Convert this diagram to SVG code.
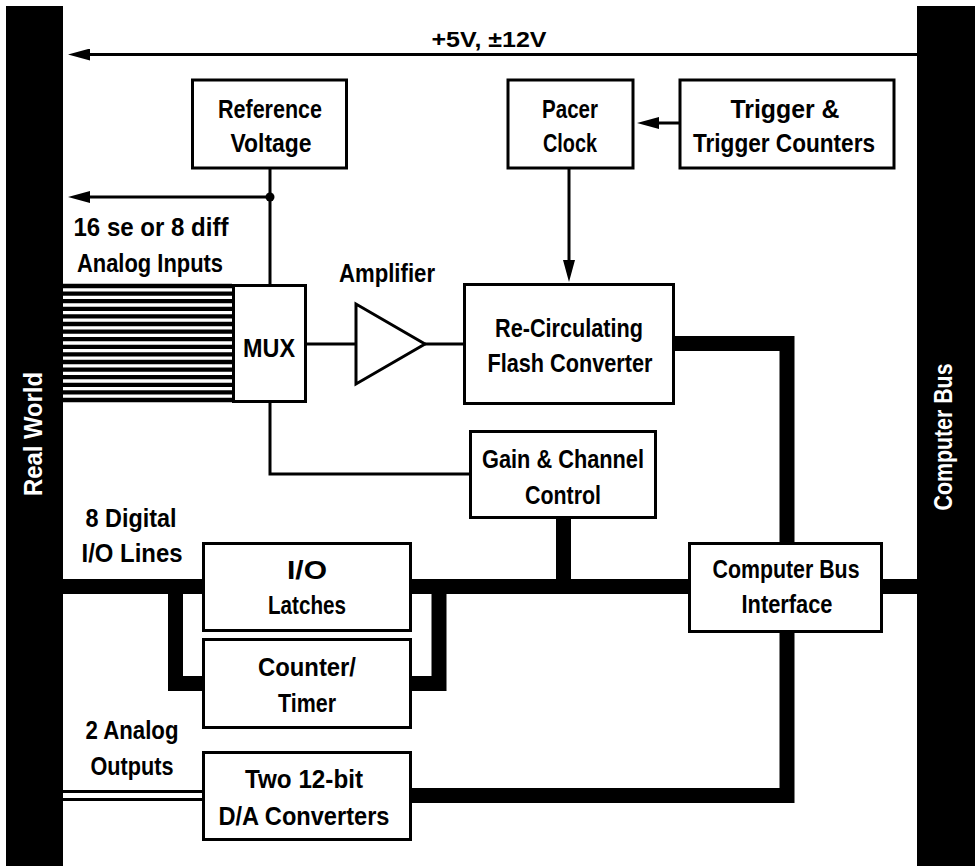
<svg xmlns="http://www.w3.org/2000/svg" width="975" height="866" viewBox="0 0 975 866">
<defs>
<style>
.box{fill:#fff;stroke:#000;stroke-width:3}
.t{font-family:"Liberation Sans Narrow","Liberation Sans",Arial,sans-serif;font-weight:bold;font-size:26px;fill:#000;text-anchor:middle}
.w{fill:#fff}
.thin{fill:none;stroke:#000;stroke-width:3}
.bus{fill:none;stroke:#000;stroke-width:15;stroke-linejoin:miter}
.in{stroke:#000;stroke-width:4.3}
</style>
<marker id="arr" viewBox="0 0 22 12" refX="14" refY="6" markerWidth="22" markerHeight="12" markerUnits="userSpaceOnUse" orient="auto">
<path d="M0,0 L22,6 L0,12 z" fill="#000"/>
</marker>
</defs>
<rect width="975" height="866" fill="#fff"/>

<g id="real-world">
<rect x="6" y="6" width="57" height="860" fill="#000"/>
<text class="t w" transform="translate(42,434) rotate(-90)" textLength="124" lengthAdjust="spacingAndGlyphs">Real World</text>
</g>
<g id="computer-bus">
<rect x="917" y="6" width="58" height="860" fill="#000"/>
<text class="t w" transform="translate(952,437) rotate(-90)" textLength="147" lengthAdjust="spacingAndGlyphs">Computer Bus</text>
</g>

<g id="connectors">
<line class="thin" x1="917" y1="54.5" x2="76" y2="54.5" marker-end="url(#arr)"/>
<text class="t" x="489" y="47" style="font-family:'Liberation Sans',Arial,sans-serif;font-size:22px" textLength="115" lengthAdjust="spacingAndGlyphs">+5V, ±12V</text>
<line class="thin" x1="270" y1="169" x2="270" y2="284"/>
<line class="thin" x1="270" y1="197" x2="76" y2="197" marker-end="url(#arr)"/>
<circle cx="270" cy="197" r="4.5" fill="#000"/>
<line class="thin" x1="679" y1="123" x2="645" y2="123" marker-end="url(#arr)"/>
<line class="thin" x1="569" y1="169" x2="569" y2="274" marker-end="url(#arr)"/>
<line class="thin" x1="307" y1="344" x2="356" y2="344"/>
<line class="thin" x1="425" y1="344" x2="463" y2="344"/>
<path class="thin" d="M270,403 V474 H469"/>
<g id="analog-inputs">
<line class="in" x1="63" y1="286" x2="232" y2="286"/>
<line class="in" x1="63" y1="293.6" x2="232" y2="293.6"/>
<line class="in" x1="63" y1="301.2" x2="232" y2="301.2"/>
<line class="in" x1="63" y1="308.8" x2="232" y2="308.8"/>
<line class="in" x1="63" y1="316.4" x2="232" y2="316.4"/>
<line class="in" x1="63" y1="324" x2="232" y2="324"/>
<line class="in" x1="63" y1="331.6" x2="232" y2="331.6"/>
<line class="in" x1="63" y1="339.2" x2="232" y2="339.2"/>
<line class="in" x1="63" y1="346.8" x2="232" y2="346.8"/>
<line class="in" x1="63" y1="354.4" x2="232" y2="354.4"/>
<line class="in" x1="63" y1="362" x2="232" y2="362"/>
<line class="in" x1="63" y1="369.6" x2="232" y2="369.6"/>
<line class="in" x1="63" y1="377.2" x2="232" y2="377.2"/>
<line class="in" x1="63" y1="384.8" x2="232" y2="384.8"/>
<line class="in" x1="63" y1="392.4" x2="232" y2="392.4"/>
<line class="in" x1="63" y1="400" x2="232" y2="400"/>
</g>
<path class="bus" d="M675,343.5 H787 V542"/>
<path class="bus" d="M563.5,519 V587"/>
<path class="bus" d="M63,586.5 H202 M412,586.5 H688 M883,586.5 H917"/>
<path class="bus" d="M175.5,586.5 V683.5 H202"/>
<path class="bus" d="M439,586.5 V683.5 H412"/>
<path class="bus" d="M787,632 V795.5 H412"/>
<line class="thin" x1="63" y1="791.5" x2="202" y2="791.5"/>
<line class="thin" x1="63" y1="799.5" x2="202" y2="799.5"/>
</g>

<g id="labels">
<text class="t" x="151" y="236" textLength="155" lengthAdjust="spacingAndGlyphs">16 se or 8 diff</text>
<text class="t" x="150" y="272" textLength="146" lengthAdjust="spacingAndGlyphs">Analog Inputs</text>
<text class="t" x="387" y="282" textLength="96" lengthAdjust="spacingAndGlyphs">Amplifier</text>
<text class="t" x="131" y="527" textLength="91" lengthAdjust="spacingAndGlyphs">8 Digital</text>
<text class="t" x="132" y="562" textLength="101" lengthAdjust="spacingAndGlyphs">I/O Lines</text>
<text class="t" x="132" y="739" textLength="93" lengthAdjust="spacingAndGlyphs">2 Analog</text>
<text class="t" x="132" y="775" textLength="83" lengthAdjust="spacingAndGlyphs">Outputs</text>
</g>

<g id="reference-voltage">
<rect class="box" x="192.5" y="80" width="154" height="88"/>
<text class="t" x="270" y="118" textLength="104" lengthAdjust="spacingAndGlyphs">Reference</text>
<text class="t" x="271" y="152" textLength="81" lengthAdjust="spacingAndGlyphs">Voltage</text>
</g>
<g id="pacer-clock">
<rect class="box" x="508" y="80" width="125" height="88"/>
<text class="t" x="570" y="118" textLength="56" lengthAdjust="spacingAndGlyphs">Pacer</text>
<text class="t" x="570" y="152" textLength="54" lengthAdjust="spacingAndGlyphs">Clock</text>
</g>
<g id="trigger">
<rect class="box" x="680" y="80" width="214" height="88"/>
<text class="t" x="785" y="118" textLength="109" lengthAdjust="spacingAndGlyphs">Trigger &amp;</text>
<text class="t" x="784" y="152" textLength="182" lengthAdjust="spacingAndGlyphs">Trigger Counters</text>
</g>
<g id="mux">
<rect class="box" x="233.5" y="285.5" width="72" height="116"/>
<text class="t" x="269" y="357" textLength="52" lengthAdjust="spacingAndGlyphs">MUX</text>
</g>
<g id="amplifier">
<polygon class="box" points="356,304 356,384 425,344"/>
</g>
<g id="flash-converter">
<rect class="box" x="464.5" y="284.5" width="209" height="119"/>
<text class="t" x="569" y="337" textLength="148" lengthAdjust="spacingAndGlyphs">Re-Circulating</text>
<text class="t" x="570" y="372" textLength="165" lengthAdjust="spacingAndGlyphs">Flash Converter</text>
</g>
<g id="gain-channel">
<rect class="box" x="470.5" y="431.5" width="185" height="86"/>
<text class="t" x="563" y="468" textLength="162" lengthAdjust="spacingAndGlyphs">Gain &amp; Channel</text>
<text class="t" x="563" y="504" textLength="76" lengthAdjust="spacingAndGlyphs">Control</text>
</g>
<g id="bus-interface">
<rect class="box" x="689.5" y="543.5" width="192" height="88"/>
<text class="t" x="786" y="578" textLength="147" lengthAdjust="spacingAndGlyphs">Computer Bus</text>
<text class="t" x="787" y="613" textLength="91" lengthAdjust="spacingAndGlyphs">Interface</text>
</g>
<g id="io-latches">
<rect class="box" x="203.5" y="543.5" width="207" height="87"/>
<text class="t" x="307" y="579" textLength="40" lengthAdjust="spacingAndGlyphs">I/O</text>
<text class="t" x="307" y="614" textLength="78" lengthAdjust="spacingAndGlyphs">Latches</text>
</g>
<g id="counter-timer">
<rect class="box" x="203.5" y="639.5" width="207" height="88"/>
<text class="t" x="307" y="676" textLength="98" lengthAdjust="spacingAndGlyphs">Counter/</text>
<text class="t" x="307" y="712" textLength="58" lengthAdjust="spacingAndGlyphs">Timer</text>
</g>
<g id="da-converters">
<rect class="box" x="203.5" y="752.5" width="207" height="87"/>
<text class="t" x="304" y="788" textLength="118" lengthAdjust="spacingAndGlyphs">Two 12-bit</text>
<text class="t" x="304" y="825" textLength="171" lengthAdjust="spacingAndGlyphs">D/A Converters</text>
</g>
</svg>
